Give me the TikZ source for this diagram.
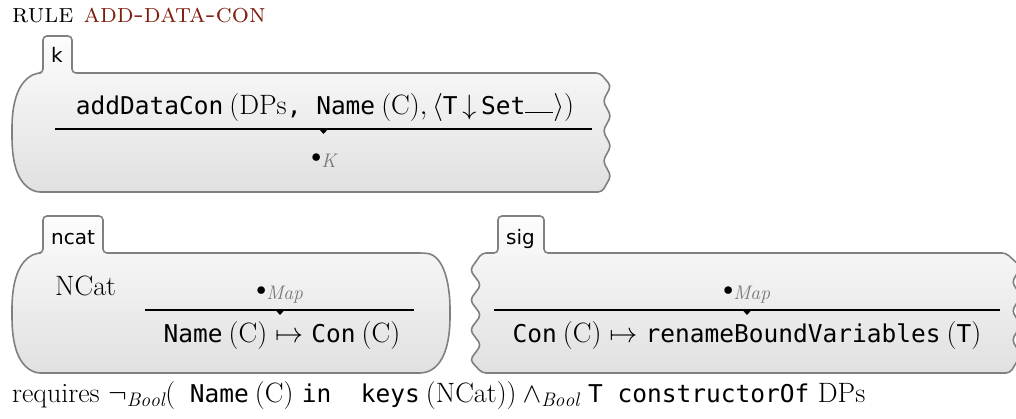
\RequirePackage{fix-cm}
\documentclass[tikz,border=0pt]{standalone}
\usepackage{fontspec}
\newfontfamily\kmono{DejaVu Sans Mono}
\newfontfamily\ksans{DejaVu Sans}
\definecolor{rulered}{RGB}{125,30,15}
\definecolor{cellborder}{RGB}{128,128,128}
\definecolor{sortgray}{RGB}{120,120,120}
\newcommand\kcode[1]{{\kmono\fontsize{24.5}{28}\selectfont #1}}
\newcommand\kgap{\hspace{6pt}}
\newcommand\kempty[1]{${\scriptstyle\bullet}_{\color{sortgray}\mathit{#1}}$}
\tikzset{
  cellshape/.style={draw=cellborder, line width=1.6pt, top color=black!1,
    bottom color=black!12, rounded corners=4pt},
  rwbar/.style={line width=1.1pt},
  rwtip/.style={fill=black},
  kterm/.style={inner sep=0pt, font=\fontsize{28}{34}\selectfont},
  celltag/.style={inner sep=0pt, anchor=base west, font=\ksans\fontsize{20}{24}\selectfont},
}
\begin{document}
\begin{tikzpicture}[x=1pt,y=-1pt]
\useasboundingbox (0,0) rectangle (1016,419);

% rule title
\node[inner sep=0pt, anchor=base west] (title) at (12,23)
  {\fontsize{27}{30}\selectfont\scshape rule \textcolor{rulered}{add-data-con}};

% cell k: round left side, open (ragged) right side
\path[cellshape] (36,192) .. controls (18,183) and (12,165) .. (12,132)
  .. controls (12,105) and (17,82) .. (37,73) -- (43,73) -- (43,36) -- (72,36)
  -- (72,73) -- (600,73) -- (611,86) -- (603,101) -- (611,116) -- (603,131)
  -- (611,146) -- (603,161) -- (611,176) -- (602,192) -- cycle;
\node[celltag] (ktag) at (51,63) {k};
\node[kterm, anchor=base] (kbefore) at (325,115)
  {\kcode{addDataCon}\kgap$($DPs\kcode{,\ Name}\kgap$(\mathrm{C}),\langle$\kcode{T}\,$\downarrow$\,\kcode{Set}\rule[2pt]{28pt}{1.3pt}$\rangle)$};
\draw[rwbar] (55,129) coordinate (kbarL) -- (592,129) coordinate (kbarR);
\fill[rwtip] (319,129) -- (328,129) -- (323.5,134) -- cycle;
\node[kterm, anchor=base] (kafter) at (324,163) {\kempty{K}};

% cell ncat: round on both sides
\path[cellshape] (36,373) .. controls (18,364) and (12,345) .. (12,313)
  .. controls (12,285) and (17,262) .. (37,253) -- (43,253) -- (43,216)
  -- (103,216) -- (103,253) -- (423,253) .. controls (443,255) and (450,282) .. (450,313)
  .. controls (450,345) and (443,366) .. (424,373) -- cycle;
\node[celltag] (ncattag) at (51,245) {ncat};
\node[kterm, anchor=base west] (ncatvar) at (55,295) {NCat};
\node[kterm, anchor=base] (ncatbefore) at (280,295) {\kempty{Map}};
\draw[rwbar] (145,310) coordinate (nbarL) -- (414,310) coordinate (nbarR);
\fill[rwtip] (275.5,310) -- (284.5,310) -- (280,315) -- cycle;
\node[kterm, anchor=base] (ncatafter) at (282,342)
  {\kcode{Name}\kgap$(\mathrm{C})\mapsto$\ \kcode{Con}\kgap$(\mathrm{C})$};

% cell sig: ragged on both sides
\path[cellshape] (482,373) -- (470,360) -- (481,345) -- (470,330) -- (481,315)
  -- (470,300) -- (481,285) -- (470,270) -- (482,253) -- (498,253) -- (498,216)
  -- (544,216) -- (544,253) -- (1006,253) -- (1021,267) -- (1012,282) -- (1021,296)
  -- (1012,311) -- (1021,325) -- (1012,340) -- (1021,355) -- (1010,373) -- cycle;
\node[celltag] (sigtag) at (506,245) {sig};
\node[kterm, anchor=base] (sigbefore) at (747,295) {\kempty{Map}};
\draw[rwbar] (494,310) coordinate (sbarL) -- (1000,310) coordinate (sbarR);
\fill[rwtip] (742.5,310) -- (751.5,310) -- (747,315) -- cycle;
\node[kterm, anchor=base] (sigafter) at (747,342)
  {\kcode{Con}\kgap$(\mathrm{C})\mapsto$\ \kcode{renameBoundVariables}\kgap$($\kcode{T}$)$};

% side condition
\node[kterm, anchor=base west] (requires) at (12,402)
  {requires $\neg_{\mathit{Bool}}($\kcode{\ Name}\kgap$(\mathrm{C})$\ \kcode{in\ \ keys}\kgap$(\mathrm{NCat}))$\kgap$\wedge_{\mathit{Bool}}$\ \kcode{T\ constructorOf}\ DPs};
\end{tikzpicture}
\end{document}
